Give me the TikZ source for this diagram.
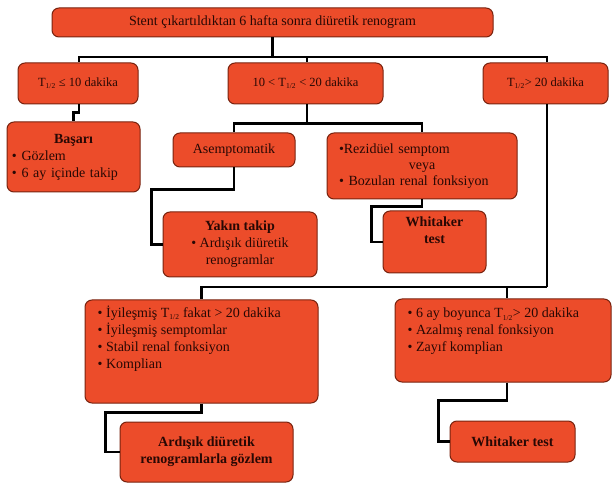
\documentclass[tikz,border=0pt]{standalone}
\usepackage{fontspec}
\setmainfont{Liberation Serif}
\definecolor{boxfill}{RGB}{236,76,42}
\definecolor{boxborder}{RGB}{120,35,15}
\definecolor{txtcol}{RGB}{40,8,4}
\newcommand\dfont{\fontsize{14}{17}\selectfont}
\newcommand\sfont{\fontsize{12.5}{17}\selectfont}
\newcommand\half{\textsubscript{\fontsize{7.5}{8}\selectfont 1/2}}
\begin{document}
\begin{tikzpicture}[x=1pt,y=-1pt,
  box/.style={draw=boxborder, line width=1pt, fill=boxfill, rounded corners=7pt, inner sep=0pt, text=txtcol, font=\dfont, align=center},
  link/.style={line width=2.4pt, draw=black},
  txt/.style={inner sep=0pt, text=txtcol, font=\dfont}]
\fill[white] (0,0) rectangle (613,486);
\useasboundingbox (0,0) rectangle (613,486);

% level 0
\node[box, minimum width=441pt, minimum height=29pt] (top) at (272.5,22.5) {Stent çıkartıldıktan 6 hafta sonra diüretik renogram};
% level 1
\node[box, minimum width=120pt, minimum height=41pt, font=\sfont] (t1) at (78,83.5) {T\half{} ≤ 10 dakika};
\node[box, minimum width=155pt, minimum height=41pt, font=\sfont] (t2) at (305.5,83.5) {10 < T\half{} < 20 dakika};
\node[box, minimum width=125pt, minimum height=41pt, font=\sfont] (t3) at (545.5,83.5) {T\half{}> 20 dakika};
% level 2
\node[box, minimum width=133pt, minimum height=70pt, text width=123pt, align=left] (basari) at (73.5,157)
  {\makebox[\linewidth]{\textbf{Başarı}}\\• Gözlem\\• 6 ay içinde takip};
\node[box, minimum width=122pt, minimum height=34pt] (asemp) at (234,150) {Asemptomatik};
\node[box, minimum width=190pt, minimum height=66pt, text width=166pt, align=left] (rezid) at (422,166)
  {•Rezidüel semptom\\[-1pt]\makebox[\linewidth]{veya}\\[-1pt]• Bozulan renal fonksiyon};
\node[box, minimum width=154pt, minimum height=65pt] (yakin) at (240,244.5)
  {\textbf{Yakın takip}\\• Ardışık diüretik\\renogramlar};
\node[box, minimum width=103pt, minimum height=62pt] (whit1) at (434.5,242) {};
\node[txt, anchor=north, align=center] (whit1t) at ([yshift=-6.5pt]whit1.north) {\textbf{Whitaker}\\\textbf{test}};
% level 3
\node[box, minimum width=233pt, minimum height=103pt] (iyi) at (201.5,351.5) {};
\node[txt, anchor=north west, align=left] (iyit) at ([xshift=13pt,yshift=-6pt]iyi.north west)
  {• İyileşmiş T\half{} fakat > 20 dakika\\• İyileşmiş semptomlar\\• Stabil renal fonksiyon\\• Komplian};
\node[box, minimum width=216pt, minimum height=83pt] (ay6) at (503,340.5) {};
\node[txt, anchor=north west, align=left] (ay6t) at ([xshift=13pt,yshift=-9.5pt]ay6.north west)
  {• 6 ay boyunca T\half{}> 20 dakika\\• Azalmış renal fonksiyon\\• Zayıf komplian};
% level 4
\node[box, minimum width=173pt, minimum height=60pt, font=\dfont\bfseries] (ardisik) at (206.5,452)
  {Ardışık diüretik\\renogramlarla gözlem};
\node[box, minimum width=125pt, minimum height=41pt, font=\dfont\bfseries] (whit2) at (512.5,441.5) {Whitaker test};

% connectors
\coordinate (bus1) at (272.5,57);
\draw[link] (top.south) -- (bus1);
\draw[link] (bus1) -| ([xshift=1pt]t1.north);
\draw[link] (bus1) -| ([xshift=1.5pt]t2.north);
\draw[link] (bus1) -| ([xshift=1.5pt]t3.north);

\draw[link] ([xshift=1pt]t1.south) -- ++(0,8) -| (basari.north);

\draw[link] ([xshift=1.5pt]t2.south) -- ++(0,19) coordinate (bus2);
\draw[link] (bus2) -| (asemp.north);
\draw[link] (bus2) -| (rezid.north);

\draw[link] (asemp.south) -- ++(0,22) -| ([xshift=-11pt]yakin.west) -- (yakin.west);
\draw[link] (rezid.south) -- ++(0,7) -| ([xshift=-11pt]whit1.west) -- (whit1.west);

\draw[link] ([xshift=1.5pt]t3.south) -- ++(0,182.5) coordinate (bus3);
\draw[link] (bus3) -| (iyi.north);
\draw[link] (bus3) -| ([xshift=4pt]ay6.north);

\draw[link] (iyi.south) -- ++(0,9) -| ([xshift=-14pt]ardisik.west) -- (ardisik.west);
\draw[link] ([xshift=4pt]ay6.south) -- ++(0,18) -| ([xshift=-11pt]whit2.west) -- (whit2.west);
\end{tikzpicture}
\end{document}
